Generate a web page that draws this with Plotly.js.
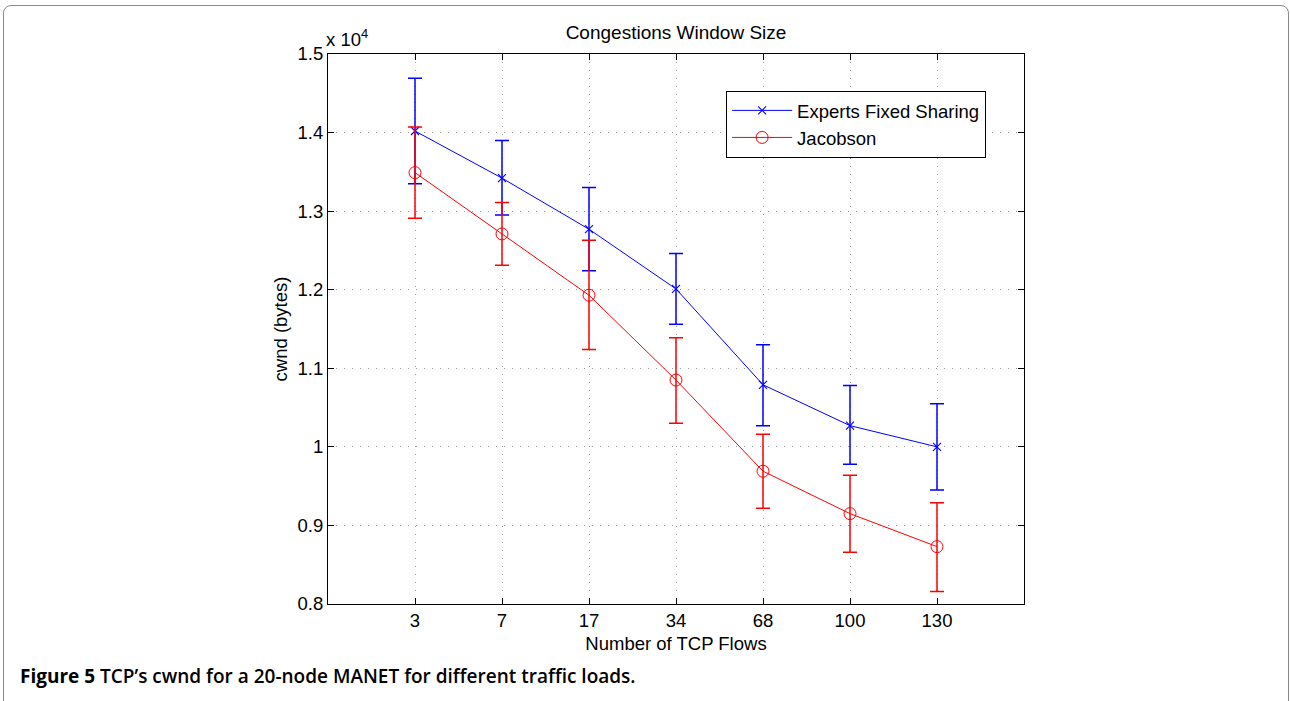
<!DOCTYPE html>
<html>
<head>
<meta charset="utf-8">
<script src="https://cdn.plot.ly/plotly-3.0.1.min.js"></script>
<style>
  html, body { margin: 0; padding: 0; background: #fff; }
  #wrap { position: relative; width: 1290px; height: 701px; overflow: hidden; }
  #chart { position: absolute; left: 0; top: 0; width: 1290px; height: 701px; }
  #frame { position: absolute; left: 3px; top: 5px; width: 1284px; height: 720px;
           border: 1.5px solid #8a8a8a; border-radius: 8px; pointer-events: none; }
</style>
</head>
<body>
<div id="wrap">
  <div id="chart"></div>
  <div id="frame"></div>
</div>
<script>
// Number of TCP flows (categories)
const flows = ['3', '7', '17', '34', '68', '100', '130'];

// cwnd values in units of 10^4 bytes
const expertsMean  = [1.402, 1.342, 1.277, 1.201, 1.079, 1.027, 1.000];
const expertsUpper = [1.469, 1.390, 1.330, 1.246, 1.130, 1.078, 1.055];
const expertsLower = [1.335, 1.295, 1.224, 1.156, 1.027, 0.978, 0.945];

const jacobsonMean  = [1.349, 1.271, 1.193, 1.085, 0.969, 0.915, 0.873];
const jacobsonUpper = [1.407, 1.311, 1.263, 1.139, 1.016, 0.964, 0.929];
const jacobsonLower = [1.291, 1.231, 1.124, 1.030, 0.922, 0.866, 0.816];

const yTicks = [0.8, 0.9, 1.0, 1.1, 1.2, 1.3, 1.4, 1.5];
const yTickText = ['0.8', '0.9', '1', '1.1', '1.2', '1.3', '1.4', '1.5'];

const plus  = (u, m) => u.map((v, i) => v - m[i]);
const minus = (l, m) => m.map((v, i) => v - l[i]);

const FONT = 'Liberation Sans, Arial, Helvetica, sans-serif';
const FS = 18.5;

const traces = [
  {
    x: flows, y: expertsMean, name: 'Experts Fixed Sharing',
    type: 'scatter', mode: 'lines+markers',
    line: { color: '#0000ff', width: 1 },
    marker: { symbol: 'x-thin-open', size: 8, color: '#0000ff', line: { color: '#0000ff', width: 1.1 } },
    error_y: { type: 'data', symmetric: false,
      array: plus(expertsUpper, expertsMean), arrayminus: minus(expertsLower, expertsMean),
      color: '#0000ff', thickness: 1.5, width: 7 }
  },
  {
    x: flows, y: jacobsonMean, name: 'Jacobson',
    type: 'scatter', mode: 'lines+markers',
    line: { color: '#ff0000', width: 1 },
    marker: { symbol: 'circle-open', size: 12, color: '#ff0000', line: { color: '#ff0000', width: 1 } },
    error_y: { type: 'data', symmetric: false,
      array: plus(jacobsonUpper, jacobsonMean), arrayminus: minus(jacobsonLower, jacobsonMean),
      color: '#ff0000', thickness: 1.5, width: 7 }
  }
];

const layout = {
  width: 1290, height: 701,
  margin: { l: 328, r: 266, t: 54, b: 97, pad: 0 },
  paper_bgcolor: '#ffffff', plot_bgcolor: '#ffffff',
  font: { family: FONT, size: FS, color: '#000' },
  title: { text: 'Congestions Window Size', font: { family: FONT, size: 19, color: '#000' },
           x: 676 / 1290, xanchor: 'center', xref: 'container', y: 1 - 32 / 701, yanchor: 'middle', yref: 'container' },
  showlegend: true,
  legend: {
    x: 0.572, y: 0.933, xanchor: 'left', yanchor: 'top',
    bordercolor: '#000', borderwidth: 1, bgcolor: '#fff',
    font: { family: FONT, size: FS, color: '#000' },
    tracegroupgap: 0, itemwidth: 60
  },
  xaxis: {
    type: 'category', range: [-1, 7],
    showline: true, linecolor: '#000', linewidth: 1, mirror: 'ticks',
    ticks: 'inside', ticklen: 6, tickcolor: '#000', tickwidth: 1,
    showgrid: true, gridcolor: '#9a9a9a', griddash: '1px,7px', gridwidth: 1,
    zeroline: false,
    tickfont: { family: FONT, size: FS, color: '#000' },
    title: { text: 'Number of TCP Flows', font: { family: FONT, size: FS, color: '#000' }, standoff: 6 }
  },
  yaxis: {
    range: [0.8, 1.5],
    tickmode: 'array', tickvals: yTicks, ticktext: yTickText,
    showline: true, linecolor: '#000', linewidth: 1, mirror: 'ticks',
    ticks: 'inside', ticklen: 6, tickcolor: '#000', tickwidth: 1,
    showgrid: true, gridcolor: '#9a9a9a', griddash: '1px,7px', gridwidth: 1,
    zeroline: false,
    tickfont: { family: FONT, size: FS, color: '#000' },
    title: { text: 'cwnd (bytes)', font: { family: FONT, size: FS, color: '#000' }, standoff: 5 }
  },
  annotations: [
    {
      text: 'x 10<sup>4</sup>', xref: 'paper', yref: 'paper', x: 0, y: 1,
      xanchor: 'left', yanchor: 'bottom', yshift: 2, xshift: -4, showarrow: false,
      font: { family: FONT, size: FS, color: '#000' }
    },
    {
      text: '<b>Figure 5</b> TCP\u2019s cwnd for a 20-node MANET for different traffic loads.',
      xref: 'paper', yref: 'paper', x: -(328 - 18) / 696, y: -(676 - 604) / 550,
      xanchor: 'left', yanchor: 'middle', showarrow: false,
      font: { family: 'Open Sans, Noto Sans, sans-serif', size: 19, color: '#000', weight: 600 }
    }
  ]
};

Plotly.newPlot('chart', traces, layout, { displayModeBar: false, staticPlot: true });
</script>
</body>
</html>
